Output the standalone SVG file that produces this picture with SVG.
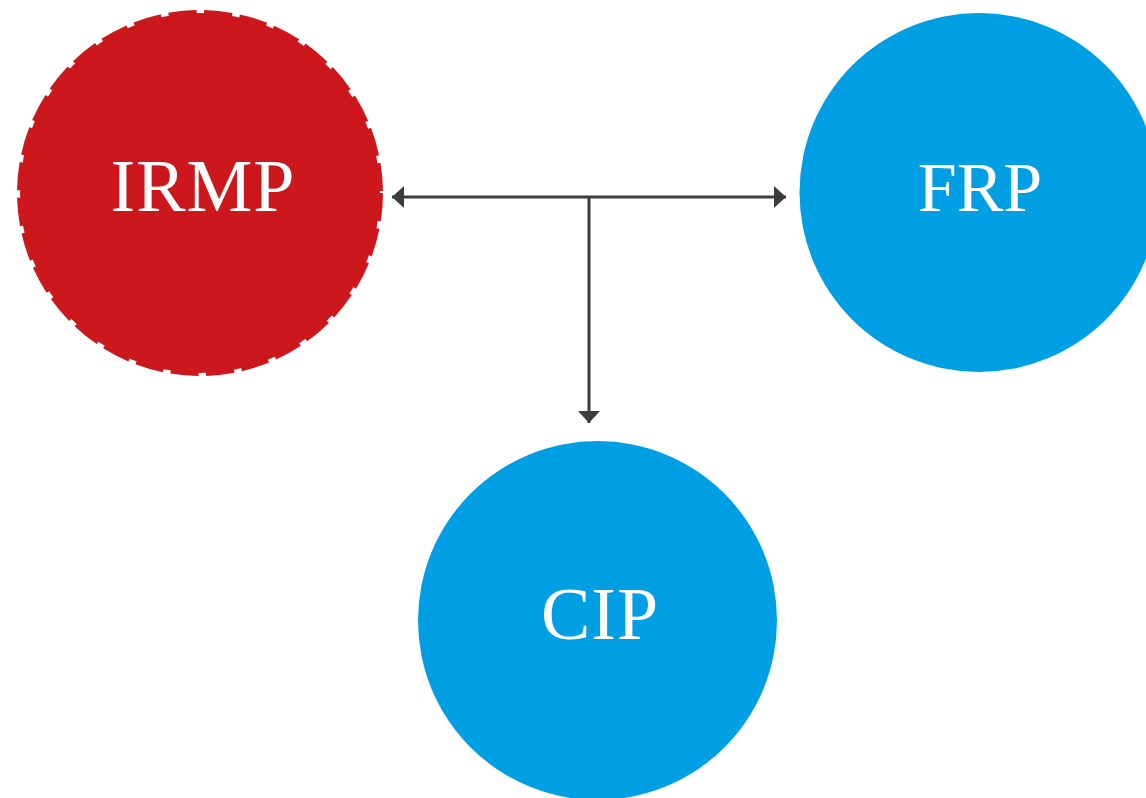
<svg xmlns="http://www.w3.org/2000/svg" width="1146" height="798" viewBox="0 0 1146 798">
  <style>
    .blue { fill: #009FE3; }
    .red { fill: #CC181C; stroke: #CC181C; stroke-width: 6; stroke-dasharray: 28 7.5; }
    .lbl { fill: #FFFFFF; font-family: "Liberation Serif", "DejaVu Serif", serif; font-size: 74px; text-anchor: middle; letter-spacing: 1px; }
    .conn { stroke: #3C3C3C; stroke-width: 3; fill: none; }
  </style>
  <defs>
    <marker id="arr" viewBox="0 0 12 22" refX="12" refY="11" markerWidth="12" markerHeight="22" markerUnits="userSpaceOnUse" orient="auto-start-reverse">
      <path d="M0,0 L12,11 L0,22 Z" fill="#3C3C3C"/>
    </marker>
  </defs>
  <rect width="1146" height="798" fill="#FFFFFF"/>
  <g id="node-irmp">
    <circle class="red" cx="200" cy="193" r="180"/>
    <text class="lbl" x="203" y="211">IRMP</text>
  </g>
  <g id="node-frp">
    <circle class="blue" cx="979" cy="192.5" r="179.5"/>
    <text class="lbl" x="980" y="211" style="font-size:70px;letter-spacing:0px">FRP</text>
  </g>
  <g id="node-cip">
    <circle class="blue" cx="597.5" cy="620.5" r="179.5"/>
    <text class="lbl" x="600" y="639">CIP</text>
  </g>
  <g id="connectors">
    <line class="conn" x1="392" y1="197" x2="786" y2="197" marker-start="url(#arr)" marker-end="url(#arr)"/>
    <line class="conn" x1="589" y1="197" x2="589" y2="423" marker-end="url(#arr)"/>
  </g>
</svg>
